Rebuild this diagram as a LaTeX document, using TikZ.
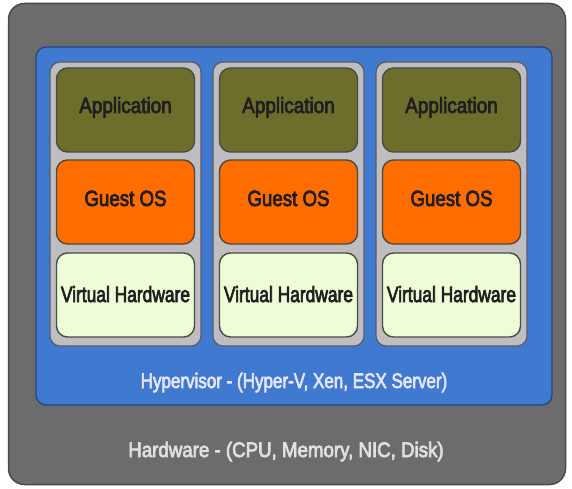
\documentclass[tikz,border=0pt]{standalone}
\usepackage{fontspec}
\setmainfont{Liberation Sans}[BoldFont={Liberation Sans}, BoldFeatures={FakeBold=3.5}]
\definecolor{hwgray}{HTML}{6C6C6C}
\definecolor{hwedge}{HTML}{4A4A4A}
\definecolor{hvblue}{HTML}{3F7AD0}
\definecolor{hvedge}{HTML}{24467A}
\definecolor{vmgray}{HTML}{BEBEC2}
\definecolor{vmedge}{HTML}{5A5A66}
\definecolor{appolive}{HTML}{6E6E2C}
\definecolor{osorange}{HTML}{FF6C00}
\definecolor{vhwgreen}{HTML}{EEFDD8}
\definecolor{boxedge}{HTML}{4A4A40}
\newcommand{\squeeze}[2]{\scalebox{#1}[1]{#2}}
\tikzset{
  layer/.style={draw=boxedge, line width=1.4pt, rounded corners=11pt,
    minimum width=138pt, minimum height=84pt, inner sep=0pt},
  appbox/.style={layer, fill=appolive},
  osbox/.style={layer, fill=osorange},
  vhwbox/.style={layer, fill=vhwgreen},
  vmbox/.style={draw=vmedge, line width=1.2pt, fill=vmgray, rounded corners=10pt,
    minimum width=151pt, minimum height=284pt, inner sep=0pt},
  boxtext/.style={anchor=base, inner sep=0pt, text=black!88,
    font=\fontsize{22}{24}\selectfont\bfseries},
  bandtext/.style={anchor=base, inner sep=0pt,
    font=\fontsize{21}{23}\selectfont\bfseries},
}
\begin{document}
\begin{tikzpicture}[x=1pt, y=-1pt]
\useasboundingbox (0,0) rectangle (572,489);
\fill[white] (0,0) rectangle (572,489);
% physical hardware layer
\node[draw=hwedge, line width=1.5pt, fill=hwgray, rounded corners=16pt,
  minimum width=557pt, minimum height=481pt, inner sep=0pt] (hw) at (287,244) {};
% hypervisor layer
\node[draw=hvedge, line width=1.3pt, fill=hvblue, rounded corners=10pt,
  minimum width=516pt, minimum height=358pt, inner sep=0pt] (hv) at (294,226) {};
\node[bandtext, text=white!90!blue] (hvlabel) at (294,388)
  {\squeeze{0.81}{Hypervisor - (Hyper-V, Xen, ESX Server)}};
\node[bandtext, text=black!12] (hwlabel) at (286,457)
  {\squeeze{0.89}{Hardware - (CPU, Memory, NIC, Disk)}};
% three virtual machines
\foreach \i/\cx in {1/125.5, 2/288.5, 3/451.5}{
  \node[vmbox] (vm\i) at (\cx,204) {};
  \node[appbox] (app\i) at (\cx,110) {};
  \node[osbox] (os\i) at (\cx,202) {};
  \node[vhwbox] (vhw\i) at (\cx,295) {};
  \node[boxtext] (apptext\i) at (\cx,113) {\squeeze{0.86}{Application}};
  \node[boxtext] (ostext\i) at (\cx,206) {\squeeze{0.85}{Guest OS}};
  \node[boxtext] (vhwtext\i) at (\cx,302) {\squeeze{0.79}{Virtual Hardware}};
}
\end{tikzpicture}
\end{document}
